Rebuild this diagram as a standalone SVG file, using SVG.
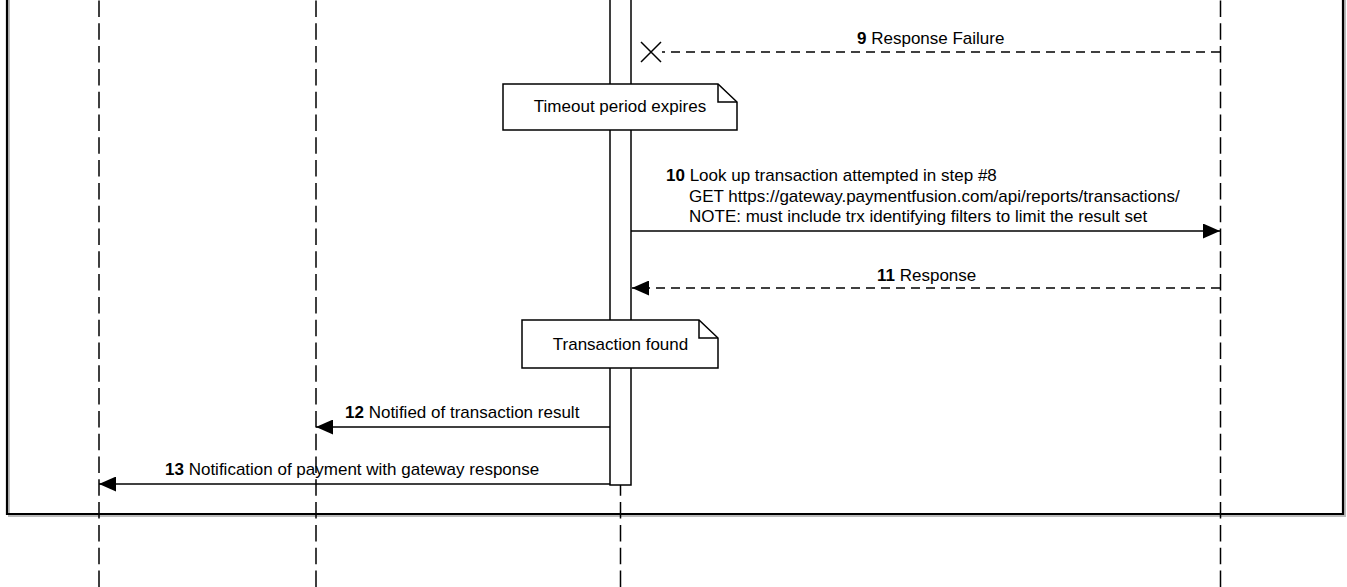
<svg xmlns="http://www.w3.org/2000/svg" width="1347" height="587" viewBox="0 0 1347 587">
<style>
text{font-family:"Liberation Sans",Arial,Helvetica,sans-serif;font-size:17px;fill:#000}
.b{font-weight:bold}
.life{stroke:#000;stroke-width:1.5;stroke-dasharray:16.5 6.3;fill:none}
.msg{stroke:#000;stroke-width:1.5;fill:none}
.dash{stroke-dasharray:9 6}
.note{fill:#fff;stroke:#000;stroke-width:1.5}
</style>
<defs>
<marker id="ah" viewBox="0 0 17 15" refX="17" refY="7.5" markerWidth="17" markerHeight="15" markerUnits="userSpaceOnUse" orient="auto">
<path d="M0,0 L17,7.5 L0,15 Z" fill="#000"/>
</marker>
</defs>
<rect width="1347" height="587" fill="#fff"/>
<g id="frame">
<path d="M9,-10 V516 H1345 V-10" fill="none" stroke="#bbb" stroke-width="2"/>
<path d="M7,-10 V514 H1343 V-10" fill="none" stroke="#000" stroke-width="2.2"/>
</g>
<g id="lifelines">
<line class="life" x1="99" y1="0" x2="99" y2="587" stroke-dashoffset="-0.5"/>
<line class="life" x1="316" y1="0" x2="316" y2="587" stroke-dashoffset="-0.5"/>
<line class="life" x1="620.5" y1="0" x2="620.5" y2="587" stroke-dashoffset="-0.5"/>
<line class="life" x1="1220.5" y1="0" x2="1220.5" y2="587" stroke-dashoffset="-0.5"/>
</g>
<g id="activation">
<rect x="610" y="-5" width="21" height="490" fill="#fff" stroke="#000" stroke-width="1.5"/>
</g>
<g id="note-timeout">
<path class="note" d="M503,84 H718 L737,102 V130 H503 Z"/>
<path d="M718,84 V102 H737" fill="none" stroke="#000" stroke-width="1.5"/>
<text x="620" y="112" text-anchor="middle">Timeout period expires</text>
</g>
<g id="note-found">
<path class="note" d="M522,320 H699 L718,338 V368 H522 Z"/>
<path d="M699,320 V338 H718" fill="none" stroke="#000" stroke-width="1.5"/>
<text x="620.5" y="350" text-anchor="middle">Transaction found</text>
</g>
<g id="connectors">
<line class="msg dash" x1="1220" y1="52" x2="662" y2="52"/>
<path d="M641,42 L661,62 M641,62 L661,42" stroke="#000" stroke-width="1.5" fill="none"/>
<line class="msg" x1="631" y1="231" x2="1220" y2="231" marker-end="url(#ah)"/>
<line class="msg dash" x1="1220" y1="288" x2="632" y2="288" marker-end="url(#ah)"/>
<line class="msg" x1="610" y1="427" x2="316" y2="427" marker-end="url(#ah)"/>
<line class="msg" x1="610" y1="484" x2="99" y2="484" marker-end="url(#ah)"/>
</g>
<g id="labels">
<text x="857" y="44"><tspan class="b">9</tspan> Response Failure</text>
<text x="666" y="181"><tspan class="b">10</tspan> Look up transaction attempted in step #8</text>
<text x="689" y="202">GET https://gateway.paymentfusion.com/api/reports/transactions/</text>
<text x="689" y="222">NOTE: must include trx identifying filters to limit the result set</text>
<text x="877" y="281"><tspan class="b">11</tspan> Response</text>
<text x="345" y="418"><tspan class="b">12</tspan> Notified of transaction result</text>
<text x="165" y="475"><tspan class="b">13</tspan> Notification of payment with gateway response</text>
</g>
</svg>
